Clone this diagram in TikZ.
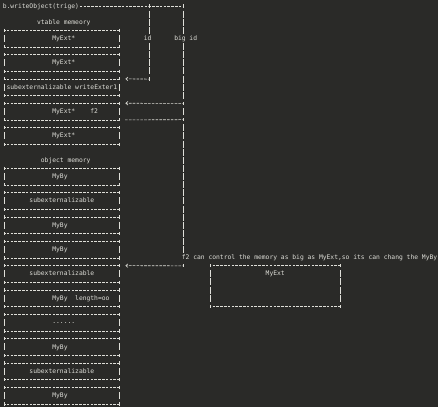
\documentclass[tikz,border=0pt]{standalone}
\usepackage{fontspec}
\setmonofont{DejaVu Sans Mono}
\usetikzlibrary{arrows.meta}
\definecolor{bgc}{RGB}{42,42,40}
\definecolor{fgc}{RGB}{222,222,216}
\newcommand\colx[1]{(4.5+3.81*(#1))}
\newcommand\ledge[1]{(2.6+3.81*(#1))}
\newcommand\rowy[1]{(6+8.12*(#1))}
\tikzset{
  lnk/.style={draw=fgc, line width=0.6pt},
  hconn/.style={lnk, dash pattern=on 2.6pt off 1.21pt, dash phase=1.3pt},
  vconn/.style={lnk, dash pattern=on 7pt off 1.12pt, shorten <=4.62pt, shorten >=4.62pt},
  lbl/.style={anchor=west, inner sep=0pt, text height=4pt, text depth=0pt, text=fgc,
    font=\ttfamily\fontsize{6.33pt}{8pt}\selectfont},
  boxn/.style={rectangle, inner sep=0pt, minimum width=114.3pt, minimum height=16.24pt},
  tipl/.style={-{Straight Barb[length=2.2pt,width=3.6pt,line width=0.6pt]}},
}
\newcommand\plustick[1]{\draw[lnk] ([yshift=1.6pt]#1) -- ([yshift=-1.6pt]#1);}
\newcommand\asciibox[1]{%
  \draw[hconn] (#1.north west) -- (#1.north east);
  \draw[hconn] (#1.south west) -- (#1.south east);
  \draw[vconn] (#1.north west) -- (#1.south west);
  \draw[vconn] (#1.north east) -- (#1.south east);
  \plustick{#1.north west}\plustick{#1.north east}%
  \plustick{#1.south west}\plustick{#1.south east}}
\newcommand\lbox[2]{% name, top row
  \node[boxn] (#1) at ({\colx{15}},{\rowy{#2+1}}) {};
  \asciibox{#1}}
\begin{document}
\begin{tikzpicture}[x=1pt,y=-1pt]
\fill[bgc] (0,0) rectangle (438,407);
\useasboundingbox (0,0) rectangle (438,407);

% title and id lines
\node[lbl] (wo) at ({\ledge{0}},{\rowy{0}}) {b.writeObject(trige)};
\coordinate (j0a) at ({\colx{38}},{\rowy{0}});
\coordinate (j0b) at ({\colx{47}},{\rowy{0}});
\coordinate (j9) at ({\colx{38}},{\rowy{9}});
\coordinate (j12) at ({\colx{47}},{\rowy{12}});
\coordinate (j14) at ({\colx{47}},{\rowy{14}});
\coordinate (j32) at ({\colx{47}},{\rowy{32}});
\node[lbl] (idl) at ({\ledge{37}},{\rowy{4}}) {id};
\node[lbl] (bigid) at ({\ledge{45}},{\rowy{4}}) {big id};
\node[lbl] (note) at ({\ledge{47}},{\rowy{31}}) {f2 can control the memory as big as MyExt,so its can chang the MyBy};

% vtable memory
\node[lbl] (vtm) at ({\ledge{9}},{\rowy{2}}) {vtable memeory};
\lbox{A}{3}\node[lbl] (tA) at ({\ledge{13}},{\rowy{4}}) {MyExt*};
\lbox{B}{6}\node[lbl] (tB) at ({\ledge{13}},{\rowy{7}}) {MyExt*};
\lbox{C}{9}\node[lbl] (tC) at ({\ledge{1}},{\rowy{10}}) {subexternalizable writeExter1};
\lbox{D}{12}\node[lbl] (tD) at ({\ledge{13}},{\rowy{13}}) {MyExt*\ \ \ \ f2};
\lbox{E}{15}\node[lbl] (tE) at ({\ledge{13}},{\rowy{16}}) {MyExt*};

% object memory
\node[lbl] (om) at ({\ledge{10}},{\rowy{19}}) {object memory};
\lbox{F}{20}\node[lbl] (tF) at ({\ledge{13}},{\rowy{21}}) {MyBy};
\lbox{G}{23}\node[lbl] (tG) at ({\ledge{7}},{\rowy{24}}) {subexternalizable};
\lbox{H}{26}\node[lbl] (tH) at ({\ledge{13}},{\rowy{27}}) {MyBy};
\lbox{I}{29}\node[lbl] (tI) at ({\ledge{13}},{\rowy{30}}) {MyBy};
\lbox{J}{32}\node[lbl] (tJ) at ({\ledge{7}},{\rowy{33}}) {subexternalizable};
\lbox{K}{35}\node[lbl] (tK) at ({\ledge{13}},{\rowy{36}}) {MyBy\ \ length=oo};
\lbox{L}{38}\node[lbl, yshift=1.5pt] (tL) at ({\ledge{13}},{\rowy{39}}) {......};
\lbox{M}{41}\node[lbl] (tM) at ({\ledge{13}},{\rowy{42}}) {MyBy};
\lbox{N}{44}\node[lbl] (tN) at ({\ledge{7}},{\rowy{45}}) {subexternalizable};
\lbox{O}{47}\node[lbl] (tO) at ({\ledge{13}},{\rowy{48}}) {MyBy};

% right MyExt box
\node[boxn, minimum width=129.54pt, minimum height=40.6pt] (R) at ({\colx{71}},{\rowy{34.5}}) {};
\asciibox{R}
\node[lbl] (tR) at ({\ledge{69}},{\rowy{33}}) {MyExt};

% connectors
\draw[hconn, dash phase=3.21pt] (wo.east) -- (j0a) -- (j0b);
\draw[vconn] (j0a) -- (j0a |- idl.west);
\draw[vconn] (j0a |- idl.west) -- (j9);
\draw[vconn] (j0b) -- (j0b |- bigid.west);
\draw[vconn] (j0b |- bigid.west) -- (j12);
\draw[vconn] (j12) -- (j14);
\draw[vconn] (j14) -- (j14 |- note.west);
\draw[hconn, tipl] (j9) -- ([xshift=6.32pt]C.north east);
\draw[hconn, tipl] (j12) -- ([xshift=6.32pt]D.north east);
\draw[hconn] (j14) -- ([xshift=5.72pt]D.south east);
\draw[hconn, tipl] (j32) -- ([xshift=6.32pt]J.north east);
\plustick{j0a}\plustick{j0b}\plustick{j9}\plustick{j12}\plustick{j14}\plustick{j32}
\end{tikzpicture}
\end{document}
